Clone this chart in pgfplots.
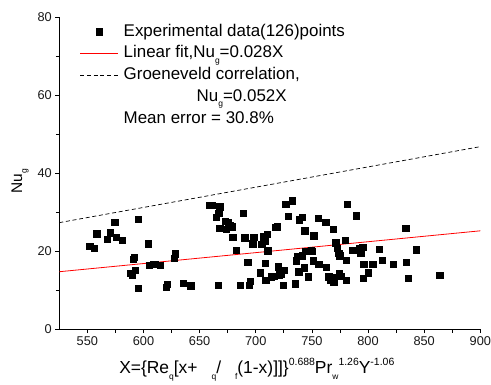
\documentclass[border=0pt]{standalone}
\usepackage{pgfplots}
\pgfplotsset{compat=1.18}
\usepackage{fontspec}
\setmainfont{Liberation Sans}
\newcommand{\sbs}[1]{\raisebox{-0.6ex}{\fontsize{8.5}{8.5}\selectfont #1}}
\newcommand{\sps}[1]{\raisebox{0.85ex}{\fontsize{10.5}{10.5}\selectfont #1}}
\pgfplotstableread{
x y
552.1 21.3
555.9 20.7
558.3 24.5
567.8 23.1
570.2 24.7
574.4 27.4
575.8 23.5
580.9 22.8
588.3 14.3
589.8 13.9
590.7 17.9
591.6 18.4
592.5 15.1
595.2 10.4
595.5 28.2
604.1 21.9
605.0 16.4
609.1 16.6
610.3 16.6
614.8 16.3
620.4 10.7
621.0 11.5
627.5 18.1
628.1 19.3
635.3 11.8
642.1 11.1
658.8 31.8
661.4 31.8
666.5 11.3
665.0 28.7
667.9 31.4
667.0 29.7
667.9 25.8
672.7 27.6
675.3 27.3
673.8 25.6
676.8 26.7
678.9 26.3
679.5 23.5
682.5 20.2
686.1 11.3
689.0 29.7
690.2 23.4
692.9 17.2
694.4 11.3
695.3 12.2
697.4 21.9
698.3 23.5
703.9 14.5
705.4 21.7
707.2 23.7
708.6 22.6
708.6 16.9
708.9 12.6
710.1 24.3
710.7 20.1
713.9 13.4
716.6 13.6
717.9 26.1
719.3 26.3
720.2 16.0
720.8 13.9
722.3 14.1
724.7 11.3
725.2 15.1
726.5 32.1
729.1 29.0
732.4 32.9
735.3 11.6
735.9 17.5
737.1 18.7
738.4 14.7
738.7 28.1
741.3 18.8
741.6 28.7
743.1 15.7
743.7 25.2
744.6 19.9
746.7 13.4
749.6 20.3
750.5 19.9
751.1 17.5
751.7 23.9
755.6 28.4
756.2 16.6
762.4 27.4
762.7 15.8
764.8 13.4
766.6 12.6
768.4 13.3
769.0 25.6
769.3 12.1
770.5 22.2
771.4 22.2
772.6 20.7
773.8 19.4
774.3 14.3
774.9 18.8
775.8 13.6
779.7 22.8
780.3 17.7
780.6 12.6
781.4 32.1
786.2 20.3
789.4 29.1
792.7 20.7
793.6 19.4
795.4 21.0
795.7 13.0
796.3 16.6
800.1 14.5
804.3 16.6
810.2 20.5
812.6 17.7
822.4 16.7
833.7 25.8
834.0 17.1
835.8 13.1
843.0 20.4
864.0 13.8
}\expdata
\begin{document}
\begin{tikzpicture}
\begin{axis}[
  scale only axis, width=421bp, height=311.7bp,
  xmin=525, xmax=900, ymin=0, ymax=80,
  axis x line*=bottom, axis y line*=left,
  axis line style={-, line width=0.9bp},
  xtick={550,600,...,900}, ytick={0,20,...,80},
  minor x tick num=1, minor y tick num=1,
  tick align=outside, major tick length=4bp, minor tick length=3.5bp,
  every tick/.style={black, line width=0.8bp},
  /pgf/number format/assume math mode=true,
  /pgf/number format/1000 sep={},
  ticklabel style={font=\fontsize{12.8}{14}\selectfont, text=black!90},
  xlabel={X=\{Re\sbs{q}[x+\hspace{0.8em}\sbs{q}/\hspace{0.8em}\sbs{f}(1-x)]]\}\sps{0.688}Pr\sbs{w}\sps{1.26}Y\sps{-1.06}},
  ylabel={Nu\sbs{g}},
  label style={font=\fontsize{15.5}{17}\selectfont},
  xlabel style={font=\fontsize{17.5}{19}\selectfont, yshift=-6bp, xshift=-13bp},
  ylabel style={yshift=2bp, xshift=-8bp},
  legend cell align=left,
  legend style={at={(0.049,0.981)}, anchor=north west, draw=none, fill=none,
    inner sep=0pt, outer sep=0pt, row sep=4.7bp,
    font=\fontsize{17}{19}\selectfont,
    nodes={text height=12bp, text depth=3bp, inner ysep=1bp, inner xsep=5bp}},
  legend image code/.code={\draw[mark repeat=2,mark phase=2,#1] plot coordinates {(0cm,0cm)(0.67cm,0cm)(1.34cm,0cm)};},
]
\addplot[only marks, mark=square*, mark size=3.2bp, black] table[x=x,y=y] {\expdata};
\addlegendentry{Experimental data(126)points}
\addplot[red, line width=0.8bp] coordinates {(525,14.7) (900,25.2)};
\addlegendentry{Linear fit,Nu\sbs{g}=0.028X}
\addplot[black, line width=0.7bp, dash pattern=on 4bp off 2.7bp] coordinates {(525,27.3) (900,46.8)};
\addlegendentry{Groeneveld correlation,}
\addlegendimage{empty legend}
\addlegendentry{\hspace{73bp}Nu\sbs{g}=0.052X}
\addlegendimage{empty legend}
\addlegendentry{Mean error = 30.8\%}
\end{axis}
\pgfresetboundingbox
\useasboundingbox (-59.3bp,-56bp) rectangle (431.7bp,329bp);
\end{tikzpicture}
\end{document}
